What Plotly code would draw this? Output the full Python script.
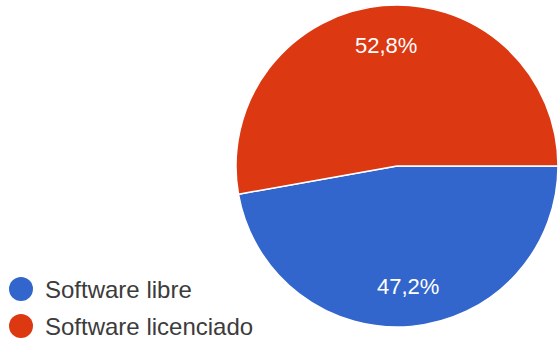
import math
import plotly.graph_objects as go

# Survey answers: share of respondents per software type
categories = ["Software libre", "Software licenciado"]
shares = [47.2, 52.8]
colors = ["#3366cc", "#dc3912"]

W, H = 558, 344
FONT = "Liberation Sans, Arial, sans-serif"

# pie placement in pixels
cx, cy, r = 397, 166, 161

fig = go.Figure()
fig.add_trace(go.Pie(
    labels=categories,
    values=shares,
    marker=dict(colors=colors, line=dict(color="white", width=1.5)),
    sort=False,
    direction="clockwise",
    rotation=90,
    textinfo="none",
    showlegend=False,
    hoverinfo="label+percent",
    domain=dict(x=[(cx - r) / W, (cx + r) / W],
                y=[1 - (cy + r) / H, 1 - (cy - r) / H]),
))

annotations = []

# percentage labels, placed at 3/4 of the radius on each slice's bisector
total = sum(shares)
cum = 0.0
for v in shares:
    mid = math.radians((cum + v / 2) / total * 360)  # clockwise from 3 o'clock
    cum += v
    px = cx + 0.75 * r * math.cos(mid)
    py = cy + 0.75 * r * math.sin(mid)
    label = f"{v / total * 100:.1f}%".replace(".", ",")
    annotations.append(dict(x=px / W, y=1 - py / H, xref="paper", yref="paper",
                            text=label, showarrow=False, xanchor="center", yanchor="middle",
                            font=dict(family=FONT, size=22, color="white")))

# legend box (white panel over the chart corner)
shapes = [dict(type="rect", xref="paper", yref="paper", layer="above",
               x0=0, x1=267 / W, y0=0, y1=1 - 262 / H,
               fillcolor="white", line=dict(width=0))]
row_y = [289, 326]
for name, col, py in zip(categories, colors, row_y):
    shapes.append(dict(type="circle", xref="paper", yref="paper", layer="above",
                       x0=9 / W, x1=33 / W, y0=1 - (py + 12) / H, y1=1 - (py - 12) / H,
                       fillcolor=col, line=dict(width=0)))
    annotations.append(dict(x=43 / W, y=1 - py / H, xref="paper", yref="paper",
                            text=name, showarrow=False, xanchor="left", yanchor="middle",
                            font=dict(family=FONT, size=24, color="#3c3c3c")))

fig.update_layout(
    width=W, height=H,
    margin=dict(l=0, r=0, t=0, b=0),
    paper_bgcolor="white",
    plot_bgcolor="white",
    shapes=shapes,
    annotations=annotations,
)

fig.write_html("out.html")
